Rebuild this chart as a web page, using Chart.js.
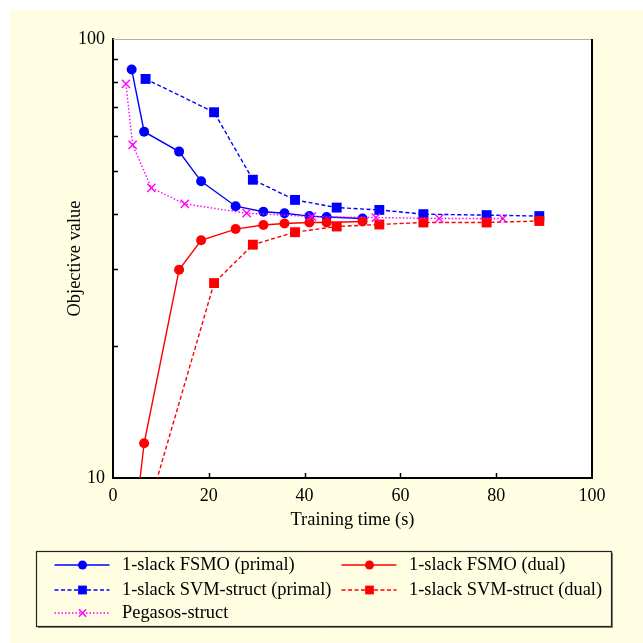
<!DOCTYPE html>
<html>
<head>
<meta charset="utf-8">
<script src="https://cdn.jsdelivr.net/npm/chart.js@4.4.0/dist/chart.umd.min.js"></script>
<style>
  html, body { margin: 0; padding: 0; background: #fff; }
  #wrap { width: 643px; height: 643px; }
</style>
</head>
<body>
<div id="wrap"><canvas id="objChart" width="643" height="643"></canvas></div>
<script>
// training time (s) and objective value for each solver run
const fsmoTime = [3.9, 6.5, 13.8, 18.4, 25.6, 31.4, 35.8, 41.0, 44.6, 52.1];
const fsmoPrimal = [85.2, 61.5, 55.4, 47.4, 41.6, 40.4, 40.1, 39.5, 39.3, 39.0];
const fsmoDual = [6.8, 12.0, 29.8, 34.8, 36.9, 37.7, 38.0, 38.2, 38.2, 38.4];
const svmTime = [6.8, 21.1, 29.2, 38.0, 46.7, 55.6, 64.8, 78.0, 89.0];
const svmPrimal = [81.1, 68.1, 47.8, 43.0, 41.3, 40.8, 39.9, 39.7, 39.5];
const svmDual = [8.1, 27.8, 34.0, 36.3, 37.4, 37.8, 38.2, 38.2, 38.5];
const pegTime = [2.7, 4.1, 8.0, 15.0, 27.9, 41.5, 54.9, 68.1, 81.4];
const pegObjective = [79.0, 57.4, 45.8, 42.1, 40.1, 39.4, 39.2, 39.0, 39.0];

const xTicks = [0, 20, 40, 60, 80, 100];
const yTicks = [10, 20, 30, 40, 50, 60, 70, 80, 90, 100];
const yLabelled = [10, 100];

const serif = '"Liberation Serif", "DejaVu Serif", serif';
const pairs = (xs, ys) => xs.map((x, i) => ({ x: x, y: ys[i] }));

function series(label, xs, ys, color, style, dash, order) {
  const cross = style === 'crossRot';
  return {
    label: label,
    data: pairs(xs, ys),
    borderColor: color,
    backgroundColor: color,
    borderWidth: 1.4,
    borderDash: dash,
    pointStyle: style,
    pointRadius: style === 'rect' ? 7 : (cross ? 5.8 : 5),
    pointBorderWidth: cross ? 1.4 : 0,
    pointBackgroundColor: color,
    pointBorderColor: color,
    tension: 0,
    order: order
  };
}

const datasets = [
  series('1-slack FSMO (primal)', fsmoTime, fsmoPrimal, '#0000ff', 'circle', [], 4),
  series('1-slack FSMO (dual)', fsmoTime, fsmoDual, '#ff0000', 'circle', [], 2),
  series('1-slack SVM-struct (primal)', svmTime, svmPrimal, '#0000ff', 'rect', [4, 2.5], 5),
  series('1-slack SVM-struct (dual)', svmTime, svmDual, '#ff0000', 'rect', [4, 2.5], 3),
  series('Pegasos-struct', pegTime, pegObjective, '#ff00ff', 'crossRot', [1.5, 2], 1)
];

// legend cells: [column, row]
const legendCells = [[0, 0], [1, 0], [0, 1], [1, 1], [0, 2]];

const frame = {
  id: 'frame',
  beforeDraw(chart) {
    const { ctx, chartArea: a } = chart;
    ctx.save();
    ctx.fillStyle = '#ffffff';
    ctx.fillRect(0, 0, chart.width, chart.height);
    ctx.fillStyle = '#fffde2';
    ctx.fillRect(10, 10, chart.width - 10, chart.height - 10);
    ctx.fillStyle = '#ffffff';
    ctx.fillRect(a.left, a.top, a.right - a.left, a.bottom - a.top);
    ctx.restore();
  },
  afterDraw(chart) {
    const { ctx, chartArea: a } = chart;
    const xs = chart.scales.x, ys = chart.scales.y;
    ctx.save();
    // top and right edges of the plot box
    ctx.strokeStyle = '#b0b0b0';
    ctx.lineWidth = 1;
    ctx.beginPath();
    ctx.moveTo(a.left, a.top + 0.5);
    ctx.lineTo(a.right, a.top + 0.5);
    ctx.stroke();
    ctx.strokeStyle = '#000';
    ctx.lineWidth = 2;
    ctx.beginPath();
    ctx.moveTo(a.right, a.top);
    ctx.lineTo(a.right, a.bottom);
    ctx.stroke();

    // inward tick marks
    ctx.lineWidth = 1.5;
    ctx.beginPath();
    xTicks.slice(1, -1).forEach(v => {
      const px = Math.round(xs.getPixelForValue(v)) + 0.5;
      ctx.moveTo(px, a.bottom);
      ctx.lineTo(px, a.bottom - 5);
    });
    yTicks.slice(1, -1).forEach(v => {
      const py = Math.round(ys.getPixelForValue(v)) + 0.5;
      ctx.moveTo(a.left, py);
      ctx.lineTo(a.left + 5, py);
    });
    ctx.stroke();

    // legend box
    ctx.strokeStyle = '#222';
    ctx.lineWidth = 1.2;
    ctx.strokeRect(36.5, 551.5, 575, 75);
    ctx.strokeStyle = '#777';
    ctx.lineWidth = 1;
    ctx.beginPath();
    ctx.moveTo(38, 627.5); ctx.lineTo(612.5, 627.5); ctx.lineTo(612.5, 553);
    ctx.stroke();

    const colX = [54.5, 341.5];
    const rowY = [565, 590, 613];
    ctx.font = '18.4px ' + serif;
    ctx.textBaseline = 'middle';
    ctx.textAlign = 'left';
    chart.data.datasets.forEach((ds, i) => {
      const [c, r] = legendCells[i];
      const x0 = colX[c], y = rowY[r];
      ctx.strokeStyle = ds.borderColor;
      ctx.fillStyle = ds.borderColor;
      ctx.lineWidth = 1.4;
      ctx.setLineDash(ds.borderDash);
      ctx.beginPath();
      ctx.moveTo(x0, y);
      ctx.lineTo(x0 + 55, y);
      ctx.stroke();
      ctx.setLineDash([]);
      Chart.helpers.drawPoint(ctx, {
        pointStyle: ds.pointStyle,
        rotation: 0,
        radius: ds.pointStyle === 'rect' ? 6.2 : (ds.pointStyle === 'circle' ? 4.5 : 5.2),
        borderWidth: ds.pointStyle === 'crossRot' ? 1.4 : 0
      }, x0 + 28, y);
      ctx.fillStyle = '#000';
      ctx.fillText(ds.label, x0 + 67.5, y);
    });
    ctx.restore();
  }
};

new Chart(document.getElementById('objChart'), {
  type: 'line',
  data: { datasets: datasets },
  options: {
    responsive: false,
    animation: false,
    layout: { padding: { left: 60, top: 39, right: 51, bottom: 108 } },
    plugins: { legend: { display: false }, tooltip: { enabled: false } },
    scales: {
      x: {
        type: 'linear',
        min: 0,
        max: 100,
        afterBuildTicks: s => { s.ticks = xTicks.map(v => ({ value: v })); },
        afterFit: s => { s.height = 57; },
        grid: { display: false, drawTicks: false },
        border: { color: '#000', width: 2 },
        ticks: { color: '#000', padding: 7, font: { family: serif, size: 18 }, maxRotation: 0, autoSkip: false },
        title: { display: true, text: 'Training time (s)', color: '#000', font: { family: serif, size: 18.4 } }
      },
      y: {
        type: 'logarithmic',
        min: 10,
        max: 100,
        afterBuildTicks: s => { s.ticks = yTicks.map(v => ({ value: v })); },
        afterFit: s => { s.width = 53; },
        grid: { display: false, drawTicks: false },
        border: { color: '#000', width: 2 },
        ticks: {
          color: '#000', padding: 8, autoSkip: false,
          font: { family: serif, size: 18 },
          callback: v => yLabelled.includes(v) ? String(v) : ''
        },
        title: { display: true, text: 'Objective value', color: '#000', font: { family: serif, size: 18.4 } }
      }
    }
  },
  plugins: [frame]
});
</script>
</body>
</html>
